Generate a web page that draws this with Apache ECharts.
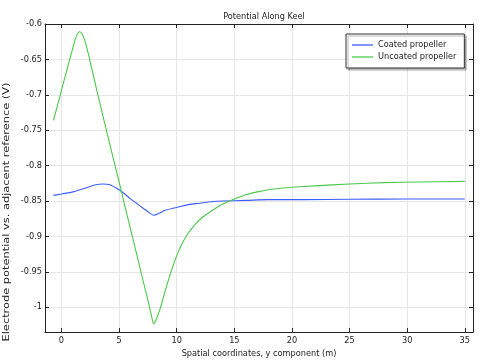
<!DOCTYPE html>
<html>
<head>
<meta charset="utf-8">
<script src="https://cdn.jsdelivr.net/npm/echarts@6/dist/echarts.min.js"></script>
<style>html,body{margin:0;padding:0;background:#fff;}#c{width:484px;height:363px;}</style>
</head>
<body>
<div id="c"></div>
<script>
var chartTitle = 'Potential Along Keel';
var xAxisTitle = 'Spatial coordinates, y component (m)';
var yAxisTitle = 'Electrode potential vs. adjacent reference (V)';
var seriesNames = ['Coated propeller', 'Uncoated propeller'];
var xTicks = [0, 5, 10, 15, 20, 25, 30, 35];
var yTicks = [-1, -0.95, -0.9, -0.85, -0.8, -0.75, -0.7, -0.65, -0.6];

var coatedX = [-0.7, 0, 1, 2, 3, 3.6, 4.2, 5, 5.5, 6, 6.5, 7, 7.5, 8, 8.5, 9, 10, 11, 12, 13, 14, 16, 18, 21, 25, 30, 35];
var coatedY = [-0.842, -0.840, -0.837, -0.832, -0.827, -0.826, -0.827, -0.834, -0.840, -0.847, -0.853, -0.859, -0.865, -0.870, -0.867, -0.863, -0.859, -0.855, -0.853, -0.851, -0.850, -0.849, -0.848, -0.848, -0.8475, -0.847, -0.847];

var uncoatedX = [-0.7, -0.2, 0.3, 0.8, 1.1, 1.35, 1.55, 1.75, 2.0, 2.3, 2.6, 3.0, 3.5, 4.0, 4.5, 5.0, 5.5, 6.0, 6.5, 7.0, 7.5, 7.8, 8.0, 8.2, 8.5, 9.0, 9.5, 10.0, 10.5, 11.0, 11.5, 12.0, 13.0, 14.0, 15.0, 16.0, 17.0, 18.0, 19.0, 20.0, 22.0, 25.0, 28.0, 31.0, 35.0];
var uncoatedY = [-0.736, -0.706, -0.675, -0.645, -0.627, -0.615, -0.611, -0.613, -0.622, -0.640, -0.661, -0.689, -0.723, -0.757, -0.790, -0.823, -0.857, -0.890, -0.923, -0.957, -0.990, -1.011, -1.0235, -1.018, -1.005, -0.977, -0.950, -0.927, -0.909, -0.895, -0.885, -0.876, -0.864, -0.854, -0.847, -0.841, -0.837, -0.834, -0.832, -0.8305, -0.8285, -0.826, -0.824, -0.823, -0.8222];

function pairs(xs, ys) { return xs.map(function (x, i) { return [x, ys[i]]; }); }

var FONT = 'DejaVu Sans';
var FS = 8.2;
var AX = '#222';

var chart = echarts.init(document.getElementById('c'), null, { renderer: 'canvas' });

function mirrorAxis(pos, min, max, ticks) {
  return {
    type: 'value', position: pos, min: min, max: max,
    axisLine: { show: true, onZero: false, lineStyle: { color: AX, width: 1 } },
    axisTick: { show: true, inside: true, length: 4, customValues: ticks, lineStyle: { color: AX } },
    axisLabel: { show: false },
    splitLine: { show: false }
  };
}

var xmin = -1.43, xmax = 35.71, ymin = -1.035, ymax = -0.6;

chart.setOption({
  animation: false,
  backgroundColor: '#fff',
  title: {
    text: chartTitle, left: 259, top: 8, textAlign: 'center',
    textStyle: { fontFamily: FONT, fontSize: FS, fontWeight: 'normal', color: AX }
  },
  grid: { left: 45, right: 11, top: 24, bottom: 28, containLabel: false },
  legend: {
    orient: 'vertical', left: 346, top: 34,
    padding: [7, 8, 7, 6], itemGap: 4, itemWidth: 21, itemHeight: 1.3,
    icon: 'rect',
    backgroundColor: '#fff', borderColor: '#333', borderWidth: 1,
    shadowColor: 'rgba(0,0,0,0.3)', shadowOffsetX: 2, shadowOffsetY: 2, shadowBlur: 1,
    textStyle: { fontFamily: FONT, fontSize: FS, color: AX },
    data: seriesNames
  },
  graphic: [{
    type: 'text', x: 7, y: 212, rotation: Math.PI / 2, scaleX: 1.39,
    style: { text: yAxisTitle, fontFamily: FONT, fontSize: FS, fill: AX, align: 'center', verticalAlign: 'middle' }
  }],
  xAxis: [{
    type: 'value', position: 'bottom', min: xmin, max: xmax,
    name: xAxisTitle, nameLocation: 'middle', nameGap: 12,
    nameTextStyle: { fontFamily: FONT, fontSize: FS, color: AX },
    axisLine: { show: true, onZero: false, lineStyle: { color: AX, width: 1 } },
    axisTick: { show: true, inside: true, length: 4, customValues: xTicks, lineStyle: { color: AX } },
    axisLabel: { customValues: xTicks, fontFamily: FONT, fontSize: FS, color: AX, margin: 5 },
    splitLine: { show: true, lineStyle: { color: '#e6e6e6', width: 1 } }
  }, mirrorAxis('top', xmin, xmax, xTicks)],
  yAxis: [{
    type: 'value', position: 'left', min: ymin, max: ymax,
    axisLine: { show: true, onZero: false, lineStyle: { color: AX, width: 1 } },
    axisTick: { show: true, inside: true, length: 4, customValues: yTicks, lineStyle: { color: AX } },
    axisLabel: { customValues: yTicks, fontFamily: FONT, fontSize: FS, color: AX, margin: 3 },
    splitLine: { show: true, lineStyle: { color: '#e6e6e6', width: 1 } }
  }, mirrorAxis('right', ymin, ymax, yTicks)],
  series: [{
    name: seriesNames[0], type: 'line', data: pairs(coatedX, coatedY),
    symbol: 'none', smooth: 0.3,
    lineStyle: { color: '#3d5cff', width: 1.1 }, itemStyle: { color: '#3d5cff' }
  }, {
    name: seriesNames[1], type: 'line', data: pairs(uncoatedX, uncoatedY),
    symbol: 'none', smooth: 0.3,
    lineStyle: { color: '#4cc94c', width: 1.1 }, itemStyle: { color: '#4cc94c' }
  }]
});
</script>
</body>
</html>
